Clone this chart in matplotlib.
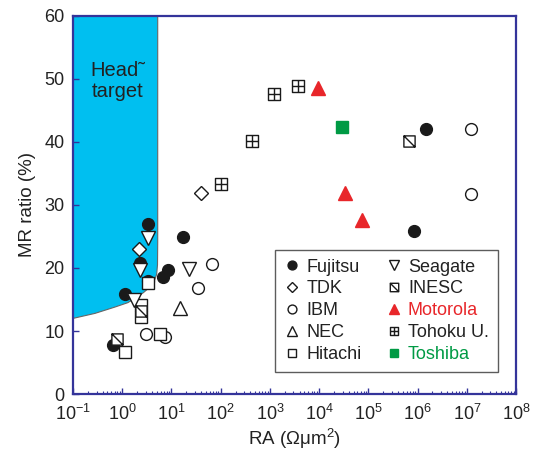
import numpy as np
import matplotlib
matplotlib.use("Agg")
import matplotlib.pyplot as plt
from matplotlib.path import Path
from matplotlib.ticker import LogLocator, FixedLocator

plt.rcParams["font.family"] = ["Liberation Sans", "DejaVu Sans"]
plt.rcParams["mathtext.fontset"] = "custom"
plt.rcParams["mathtext.rm"] = "Liberation Sans"
plt.rcParams["mathtext.it"] = "Liberation Sans:italic"

# ── Data (RA in Ohm um^2, MR ratio in %) ─────────────────────────────────────
fujitsu_ra = [1.15, 3.3, 2.3, 3.4, 17.5, 8.6, 6.8, 0.66, 1.5e6, 8.3e5]
fujitsu_mr = [15.8, 27.0, 20.8, 18.0, 24.9, 19.7, 18.6, 7.8, 42.0, 25.9]
tdk_ra     = [2.2, 39]
tdk_mr     = [23.0, 31.9]
ibm_ra     = [66, 34, 3.1, 7.4, 1.2e7, 1.2e7]
ibm_mr     = [20.7, 16.8, 9.6, 9.1, 42.0, 31.7]
nec_ra     = [15]
nec_mr     = [13.6]
hitachi_ra = [3.4, 2.4, 2.4, 5.9, 1.14]
hitachi_mr = [17.6, 14.1, 12.3, 9.5, 6.7]
seagate_ra = [3.3, 2.3, 23, 1.74]
seagate_mr = [24.7, 19.7, 19.9, 14.9]
inesc_ra   = [2.4, 0.77, 6.6e5]
inesc_mr   = [13.1, 8.7, 40.1]
motorola_ra = [9300, 34000, 74000]
motorola_mr = [48.6, 31.9, 27.6]
tohoku_ra  = [3800, 1230, 427, 102]
tohoku_mr  = [48.9, 47.6, 40.2, 33.3]
toshiba_ra = [29000]
toshiba_mr = [42.4]

# head target region boundary
target_ra = [0.1, 0.28, 0.71, 1.3, 1.82, 2.7, 3.67, 4.5, 5.0, 5.2, 5.25, 5.25]
target_mr = [12.0, 12.8, 13.8, 14.5, 15.2, 16.1, 17.0, 18.0, 19.0, 20.5, 24.0, 60.0]

AXIS_C = "#34349a"
RED    = "#e8262a"
GREEN  = "#009a44"

# ── Custom markers ───────────────────────────────────────────────────────────
sq = [(-1, -1), (1, -1), (1, 1), (-1, 1), (-1, -1)]
sq_codes = [Path.MOVETO] + [Path.LINETO] * 3 + [Path.CLOSEPOLY]
inesc_marker = Path(sq + [(-1, 1), (1, -1)],
                    sq_codes + [Path.MOVETO, Path.LINETO])
tohoku_marker = Path(sq + [(0, -1), (0, 1), (-1, 0), (1, 0)],
                     sq_codes + [Path.MOVETO, Path.LINETO,
                                 Path.MOVETO, Path.LINETO])

fig = plt.figure(figsize=(5.37, 4.55), dpi=100)
ax = fig.add_axes([0.136, 0.134, 0.825, 0.831])

# target region
bx = [0.1] + target_ra + [0.1]
by = [60.0] + target_mr + [60.0]
ax.fill(bx, by, color="#00bff0", ec="#666666", lw=0.8, zorder=1)
ax.text(0.8, 49.7, "Head\u02dc\ntarget", ha="center", va="center",
        fontsize=14.5, color="#222222", linespacing=1.15, zorder=2)

ms = 8.5
kw = dict(linestyle="none", zorder=3)
series = [
    ("Fujitsu",   fujitsu_ra, fujitsu_mr, dict(marker="o", mfc="#1a1a1a", mec="#1a1a1a", ms=ms)),
    ("TDK",       tdk_ra, tdk_mr, dict(marker="D", mfc="white", mec="#1a1a1a", ms=ms * 0.8, mew=1.0)),
    ("IBM",       ibm_ra, ibm_mr, dict(marker="o", mfc="white", mec="#1a1a1a", ms=ms, mew=1.0)),
    ("NEC",       nec_ra, nec_mr, dict(marker="^", mfc="white", mec="#1a1a1a", ms=ms + 1, mew=1.0)),
    ("Hitachi",   hitachi_ra, hitachi_mr, dict(marker="s", mfc="white", mec="#1a1a1a", ms=ms * 0.95, mew=1.0)),
    ("Seagate",   seagate_ra, seagate_mr, dict(marker="v", mfc="white", mec="#1a1a1a", ms=ms + 1, mew=1.0)),
    ("INESC",     inesc_ra, inesc_mr, dict(marker=inesc_marker, mfc="white", mec="#1a1a1a", ms=ms * 0.95, mew=1.0)),
    ("Motorola",  motorola_ra, motorola_mr, dict(marker="^", mfc=RED, mec=RED, ms=ms + 1)),
    ("Tohoku U.", tohoku_ra, tohoku_mr, dict(marker=tohoku_marker, mfc="white", mec="#1a1a1a", ms=ms * 0.95, mew=1.0)),
    ("Toshiba",   toshiba_ra, toshiba_mr, dict(marker="s", mfc=GREEN, mec=GREEN, ms=ms * 0.95)),
]

handles = []
for name, x, y, st in series:
    h, = ax.plot(x, y, label=name, **kw, **st)
    handles.append(h)

ax.set_xscale("log")
ax.set_xlim(0.1, 1e8)
ax.set_ylim(0, 60)
ax.set_yticks([0, 10, 20, 30, 40, 50, 60])
ax.xaxis.set_major_locator(FixedLocator([10.0 ** k for k in range(-1, 9)]))
ax.xaxis.set_minor_locator(LogLocator(base=10, subs=np.arange(2, 10), numticks=20))
ax.set_xticklabels([f"$10^{{{k}}}$" for k in range(-1, 9)])

for s in ax.spines.values():
    s.set_color(AXIS_C)
    s.set_linewidth(1.6)
ax.tick_params(which="both", direction="in", color=AXIS_C, labelsize=13,
               labelcolor="#222222", top=False, right=False)
ax.tick_params(which="major", length=4, width=1.0, pad=5)
ax.tick_params(axis="x", which="major", pad=7)
ax.tick_params(axis="y", which="major", pad=6)
ax.tick_params(which="minor", length=2, width=0.8)

ax.set_xlabel("RA (\u03a9\u03bcm$^2$)", fontsize=13.5, color="#222222", labelpad=2)
ax.set_ylabel("MR ratio (%)", fontsize=13.5, color="#222222", labelpad=6)

leg = ax.legend(handles=handles, ncol=2, loc="lower right",
                bbox_to_anchor=(0.959, 0.058), borderaxespad=0, fontsize=13,
                frameon=True, fancybox=False, edgecolor="#333333",
                handlelength=0.9, handletextpad=0.35, columnspacing=1.3,
                labelspacing=0.27, borderpad=0.5, markerscale=0.75)
leg.get_frame().set_linewidth(1.0)
leg.set_zorder(5)
for t in leg.get_texts():
    if t.get_text() == "Motorola":
        t.set_color(RED)
    elif t.get_text() == "Toshiba":
        t.set_color(GREEN)
    else:
        t.set_color("#222222")

fig.savefig("out.png", dpi=100)
